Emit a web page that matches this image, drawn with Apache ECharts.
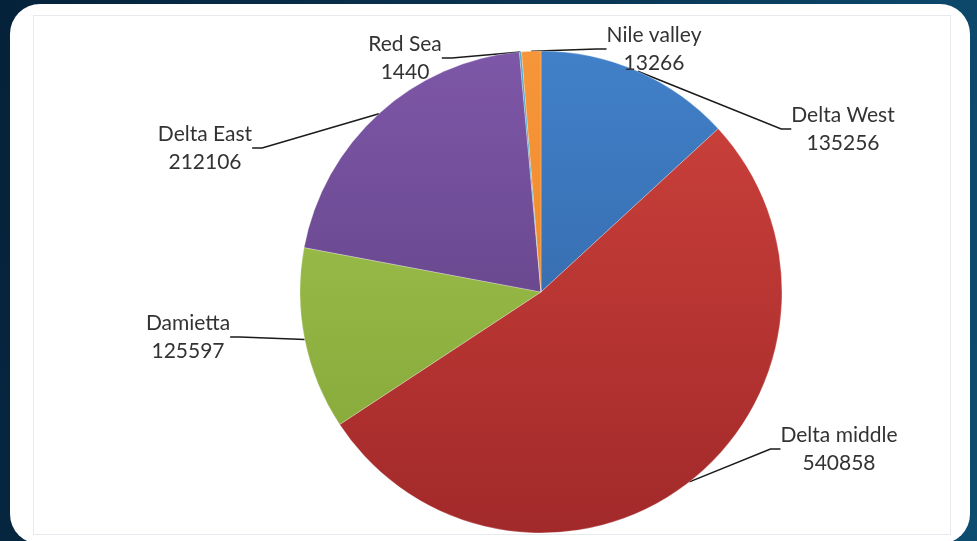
<!DOCTYPE html>
<html>
	<head>
		<meta charset="utf-8" />
		<title></title>
		<script type="text/javascript" src="https://cdn.jsdelivr.net/npm/echarts@6/dist/echarts.min.js"></script>
		<style>
			html, body { margin: 0; padding: 0; width: 977px; height: 541px; overflow: hidden;
				background: linear-gradient(100deg, #05223a 0%, #0a3655 55%, #0d4d70 100%); }
			#card { position: absolute; left: 10px; top: 4px; width: 960px; height: 540px;
				background: #fff; border-radius: 30px; }
			#frame { position: absolute; left: 33px; top: 15px; width: 918px; height: 520px;
				border: 1.5px solid #e6eaef; box-sizing: border-box; }
			#main { position: absolute; left: 0; top: 0; width: 977px; height: 541px; }
		</style>
	</head>
	<body>
		<div id="card"></div>
		<div id="frame"></div>
		<div id="main"></div>
		<script>
			// data
			var names  = ['Delta West', 'Delta middle', 'Damietta', 'Delta East', 'Red Sea', 'Nile valley'];
			var values = [135256, 540858, 125597, 212106, 1440, 13266];
			// top / bottom shade of each slice (excel style gradient)
			var topColors    = ['#4180c8', '#cf433c', '#a4c652', '#7e57a8', '#4bacc6', '#f7953a'];
			var bottomColors = ['#2f5e9c', '#a2292a', '#82a436', '#573b78', '#3f93aa', '#e8821f'];

			// where the labels sit (centre of the two line text)
			var labelPos = {
				'Delta West':   [843, 129],
				'Delta middle': [839, 449],
				'Damietta':     [188, 337],
				'Delta East':   [205, 148],
				'Red Sea':      [405, 58],
				'Nile valley':  [654, 49]
			};

			var chartDom = document.getElementById('main');
			var myChart = echarts.init(chartDom);

			var data = [];
			for (var i = 0; i < names.length; i++) {
				data.push({
					name: names[i],
					value: values[i],
					itemStyle: {
						color: new echarts.graphic.LinearGradient(0, 51, 0, 533, [
							{ offset: 0, color: topColors[i] },
							{ offset: 1, color: bottomColors[i] }
						], true)
					}
				});
			}

			var option = {
				series: [
					{
						type: 'pie',
						center: [541, 292],
						radius: 241,
						startAngle: 90,
						clockwise: true,
						animation: false,
						itemStyle: {
							borderColor: 'rgba(255,255,255,0.5)',
							borderWidth: 0.5
						},
						label: {
							show: true,
							position: 'outside',
							formatter: '{b}\n{c}',
							fontFamily: 'Lato',
							fontSize: 21,
							lineHeight: 28,
							color: '#333',
							align: 'center'
						},
						labelLine: {
							show: true,
							length: 20,
							length2: 10,
							lineStyle: { color: '#1a1a1a', width: 1.5 }
						},
						labelLayout: function (p) {
							var pos = labelPos[names[p.dataIndex]];
							return {
								x: pos[0],
								y: pos[1],
								align: 'center',
								verticalAlign: 'middle'
							};
						},
						data: data
					}
				]
			};
			myChart.setOption(option);
		</script>
	</body>
</html>
